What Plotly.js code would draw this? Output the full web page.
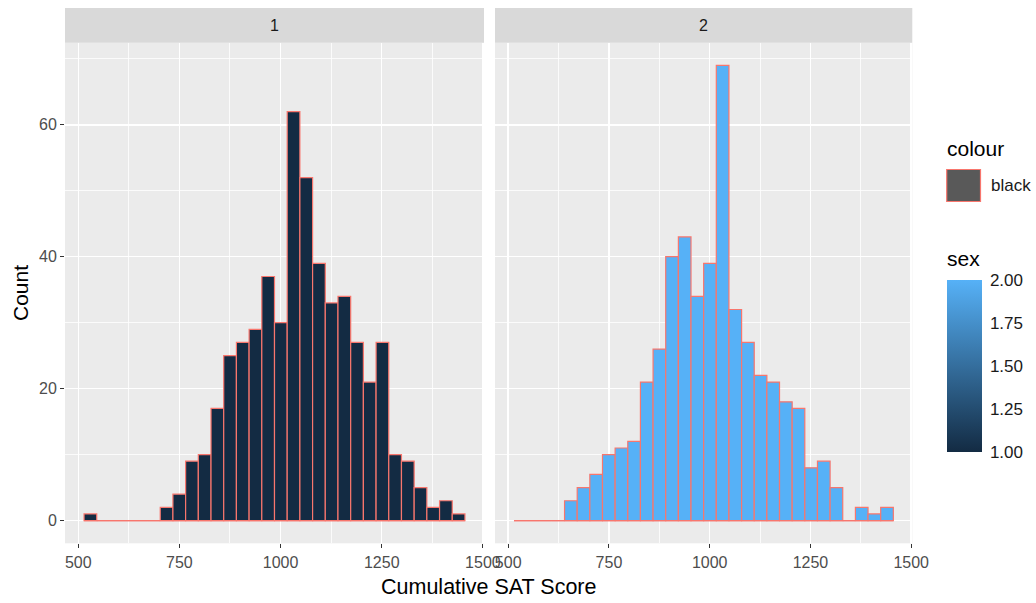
<!DOCTYPE html>
<html>
<head>
<meta charset="utf-8">
<script src="https://cdn.plot.ly/plotly-3.0.1.min.js"></script>
<style>
  html, body { margin: 0; padding: 0; background: #ffffff; }
  #chart { width: 1036px; height: 603px; }
</style>
</head>
<body>
<div id="chart"></div>
<script>
// Cumulative SAT score histograms, one facet per sex (30 bins shared by both facets)
const scoreMin = 530;          // lowest cumulative SAT score in the data
const scoreMax = 1440;         // highest cumulative SAT score in the data
const nBins = 30;
const sexLevels = [1, 2];
const facetLabels = ['1', '2'];
const countsSex1 = [1, 0, 0, 0, 0, 0, 2, 4, 9, 10, 17, 25, 27, 29, 37, 30, 62, 52, 39, 33, 34, 27, 21, 27, 10, 9, 5, 2, 3, 1];
const countsSex2 = [0, 0, 0, 0, 3, 5, 7, 10, 11, 12, 21, 26, 40, 43, 34, 39, 69, 32, 27, 22, 21, 18, 17, 8, 9, 5, 0, 2, 1, 2];
const xTicks = [500, 750, 1000, 1250, 1500];
const xMinor = [625, 875, 1125, 1375];
const yTicks = [0, 20, 40, 60];
const yMinor = [10, 30, 50, 70];
const sexTicks = [1, 1.25, 1.5, 1.75, 2];

// ggplot-style binning: bin centres run from min to max
const binWidth = (scoreMax - scoreMin) / (nBins - 1);
const binCentres = Array.from({length: nBins}, (_, i) => scoreMin + i * binWidth);
const firstEdge = scoreMin - binWidth / 2;
const lastEdge = scoreMax + binWidth / 2;

// 5% expansion on each side like ggplot's default continuous scale
const xSpan = lastEdge - firstEdge;
const xRange = [firstEdge - 0.05 * xSpan, lastEdge + 0.05 * xSpan];
const yMax = Math.max(...countsSex1, ...countsSex2);
const yRange = [-0.05 * yMax, 1.05 * yMax];

const W = 1036, H = 603;
const px = v => v / W;
const py = v => 1 - v / H;

const outline = '#F8766D';
const sexScale = [[0, '#132B43'], [1, '#56B1F7']];
const font = 'Liberation Sans, Arial, sans-serif';

// colour bar geometry (pixels)
const cbLeft = 946.5, cbTop = 280, cbLen = 172, cbThick = 35;

function histTrace(counts, sex, xa, ya, showScale) {
  return {
    type: 'bar',
    x: binCentres,
    y: counts,
    width: binWidth,
    xaxis: xa, yaxis: ya,
    marker: {
      color: counts.map(() => sex),
      colorscale: sexScale,
      cmin: 1, cmax: 2,
      showscale: showScale,
      line: {color: outline, width: 1.2},
      colorbar: showScale ? {
        x: px(cbLeft), xanchor: 'left',
        y: py(cbTop), yanchor: 'top',
        len: cbLen, lenmode: 'pixels',
        thickness: cbThick, thicknessmode: 'pixels',
        xpad: 0, ypad: 0,
        outlinewidth: 0,
        tickvals: sexTicks,
        tickformat: '.2f',
        ticks: 'outside', ticklen: 5, tickcolor: 'rgba(0,0,0,0)', tickwidth: 1,
        tickfont: {family: font, size: 17, color: '#1A1A1A'}
      } : undefined
    },
    hoverinfo: 'x+y',
    showlegend: false
  };
}

function baseline(xa, ya) {
  return {
    type: 'scatter', mode: 'lines',
    x: [firstEdge, lastEdge], y: [0, 0],
    xaxis: xa, yaxis: ya,
    line: {color: outline, width: 1.2},
    hoverinfo: 'skip', showlegend: false
  };
}

const data = [
  histTrace(countsSex1, sexLevels[0], 'x', 'y', false),
  histTrace(countsSex2, sexLevels[1], 'x2', 'y2', true),
  baseline('x', 'y'),
  baseline('x2', 'y2')
];

const panelX = [[65, 484], [495, 912.3]];
const panelTop = 42.7, panelBottom = 543.3, stripTop = 8;

function xAxis(domain, anchor) {
  return {
    domain: domain, anchor: anchor,
    range: xRange, fixedrange: true,
    tickvals: xTicks,
    ticks: 'outside', ticklen: 4, tickcolor: '#333333', tickwidth: 1,
    tickfont: {family: font, size: 16, color: '#4D4D4D'},
    showgrid: true, gridcolor: '#ffffff', gridwidth: 1.5,
    minor: {tickvals: xMinor, showgrid: true, gridcolor: '#ffffff', gridwidth: 0.8, ticks: ''},
    zeroline: false, showline: false
  };
}
function yAxis(anchor, labels) {
  return {
    domain: [py(panelBottom), py(panelTop)], anchor: anchor,
    range: yRange, fixedrange: true,
    tickvals: yTicks,
    ticks: labels ? 'outside' : '', ticklen: 4, tickcolor: '#333333', tickwidth: 1,
    showticklabels: labels,
    tickfont: {family: font, size: 16, color: '#4D4D4D'},
    showgrid: true, gridcolor: '#ffffff', gridwidth: 1.5,
    minor: {tickvals: yMinor, showgrid: true, gridcolor: '#ffffff', gridwidth: 0.8, ticks: ''},
    zeroline: false, showline: false
  };
}

const shapes = [];
const annotations = [];
panelX.forEach((p, i) => {
  shapes.push({
    type: 'rect', xref: 'paper', yref: 'paper',
    x0: px(p[0]), x1: px(p[1]), y0: py(panelTop), y1: py(stripTop),
    fillcolor: '#D9D9D9', line: {width: 0}, layer: 'below'
  });
  annotations.push({
    xref: 'paper', yref: 'paper',
    x: px((p[0] + p[1]) / 2), y: py((stripTop + panelTop) / 2),
    xanchor: 'center', yanchor: 'middle', showarrow: false,
    text: facetLabels[i], font: {family: font, size: 16, color: '#1A1A1A'}
  });
});

// white tick marks on both edges of the colour bar
sexTicks.forEach(v => {
  const yy = py(cbTop + (2 - v) * cbLen);
  shapes.push(
    {type: 'line', xref: 'paper', yref: 'paper', x0: px(cbLeft), x1: px(cbLeft + 7), y0: yy, y1: yy,
     line: {color: '#ffffff', width: 1}},
    {type: 'line', xref: 'paper', yref: 'paper', x0: px(cbLeft + cbThick - 7), x1: px(cbLeft + cbThick), y0: yy, y1: yy,
     line: {color: '#ffffff', width: 1}}
  );
});

// legend for the outline colour
shapes.push({
  type: 'rect', xref: 'paper', yref: 'paper',
  x0: px(946.7), x1: px(980.5), y0: py(201.5), y1: py(169.5),
  fillcolor: '#595959', line: {color: outline, width: 1.2}
});
annotations.push(
  {xref: 'paper', yref: 'paper', x: px(945), y: py(148), xanchor: 'left', yanchor: 'middle',
   showarrow: false, text: 'colour', font: {family: font, size: 21, color: '#000000'}},
  {xref: 'paper', yref: 'paper', x: px(989), y: py(186), xanchor: 'left', yanchor: 'middle',
   showarrow: false, text: 'black', font: {family: font, size: 17, color: '#1A1A1A'}},
  {xref: 'paper', yref: 'paper', x: px(945), y: py(259), xanchor: 'left', yanchor: 'middle',
   showarrow: false, text: 'sex', font: {family: font, size: 21, color: '#000000'}},
  {xref: 'paper', yref: 'paper', x: px((panelX[0][0] + panelX[1][1]) / 2), y: py(587),
   xanchor: 'center', yanchor: 'middle', showarrow: false,
   text: 'Cumulative SAT Score', font: {family: font, size: 21.5, color: '#000000'}},
  {xref: 'paper', yref: 'paper', x: px(20), y: py((panelTop + panelBottom) / 2),
   xanchor: 'center', yanchor: 'middle', showarrow: false, textangle: -90,
   text: 'Count', font: {family: font, size: 21, color: '#000000'}}
);

const layout = {
  width: W, height: H,
  margin: {l: 0, r: 0, t: 0, b: 0, pad: 0},
  paper_bgcolor: '#ffffff',
  plot_bgcolor: '#EBEBEB',
  bargap: 0,
  showlegend: false,
  xaxis: xAxis([px(panelX[0][0]), px(panelX[0][1])], 'y'),
  xaxis2: xAxis([px(panelX[1][0]), px(panelX[1][1])], 'y2'),
  yaxis: yAxis('x', true),
  yaxis2: yAxis('x2', false),
  shapes: shapes,
  annotations: annotations,
  font: {family: font}
};

Plotly.newPlot('chart', data, layout, {staticPlot: true, displayModeBar: false});
</script>
</body>
</html>
